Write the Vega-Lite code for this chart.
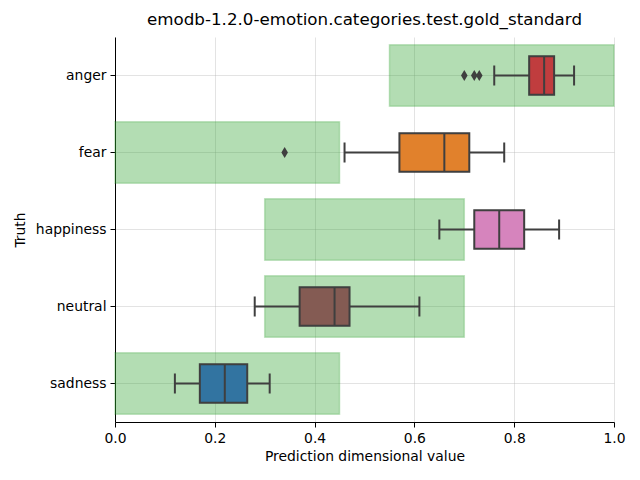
{
  "$schema": "https://vega.github.io/schema/vega-lite/v6.json",
  "autosize": "none",
  "width": 499,
  "height": 385,
  "padding": {"left": 115, "top": 37, "right": 26, "bottom": 58},
  "background": "white",
  "title": {"text": "emodb-1.2.0-emotion.categories.test.gold_standard", "font": "DejaVu Sans", "fontSize": 16.7, "fontWeight": "normal", "color": "black", "offset": 8},
  "config": {
    "view": {"stroke": null},
    "axis": {"labelFont": "DejaVu Sans", "titleFont": "DejaVu Sans", "labelFontSize": 13.9, "titleFontSize": 13.9, "titleFontWeight": "normal", "labelColor": "black", "titleColor": "black", "domainColor": "black", "tickColor": "black", "tickSize": 5, "labelPadding": 4, "gridColor": "#b0b0b0", "gridOpacity": 0.45, "gridWidth": 0.8, "zindex": 1, "domainWidth": 1, "labelFlush": false}
  },
  "datasets": {
    "boxes": [
      {"emotion": "anger", "lo": 0.76, "q1": 0.83, "med": 0.86, "q3": 0.88, "hi": 0.92, "elo": 0.55, "ehi": 1.0},
      {"emotion": "fear", "lo": 0.46, "q1": 0.57, "med": 0.66, "q3": 0.71, "hi": 0.78, "elo": 0.0, "ehi": 0.45},
      {"emotion": "happiness", "lo": 0.65, "q1": 0.72, "med": 0.77, "q3": 0.82, "hi": 0.89, "elo": 0.3, "ehi": 0.7},
      {"emotion": "neutral", "lo": 0.28, "q1": 0.37, "med": 0.44, "q3": 0.47, "hi": 0.61, "elo": 0.3, "ehi": 0.7},
      {"emotion": "sadness", "lo": 0.12, "q1": 0.17, "med": 0.22, "q3": 0.265, "hi": 0.31, "elo": 0.0, "ehi": 0.45}
    ],
    "outliers": [
      {"emotion": "anger", "value": 0.70},
      {"emotion": "anger", "value": 0.72},
      {"emotion": "anger", "value": 0.73},
      {"emotion": "fear", "value": 0.34}
    ]
  },
  "encoding": {
    "y": {"field": "emotion", "type": "nominal", "sort": ["anger", "fear", "happiness", "neutral", "sadness"], "scale": {"paddingInner": 0, "paddingOuter": 0}, "title": "Truth", "axis": {"grid": true, "domain": true, "titlePadding": 8}}
  },
  "layer": [
    {
      "data": {"name": "boxes"},
      "mark": {"type": "bar", "height": {"band": 0.8}, "fill": "#2ca02c", "fillOpacity": 0.36, "stroke": "#2ca02c", "strokeOpacity": 0.25, "strokeWidth": 1.5},
      "encoding": {
        "x": {"field": "elo", "type": "quantitative", "scale": {"domain": [0, 1], "nice": false, "zero": false}, "title": "Prediction dimensional value", "axis": {"format": ".1f", "values": [0, 0.2, 0.4, 0.6, 0.8, 1.0], "grid": true, "titlePadding": 5}},
        "x2": {"field": "ehi"}
      }
    },
    {
      "data": {"name": "boxes"},
      "mark": {"type": "rule", "color": "#3f3f3f", "strokeWidth": 2},
      "encoding": {"x": {"field": "lo", "type": "quantitative"}, "x2": {"field": "hi"}}
    },
    {
      "data": {"name": "boxes"},
      "mark": {"type": "bar", "height": {"band": 0.5}, "stroke": "#3f3f3f", "strokeWidth": 2},
      "encoding": {
        "x": {"field": "q1", "type": "quantitative"},
        "x2": {"field": "q3"},
        "color": {"field": "emotion", "type": "nominal", "scale": {"domain": ["anger", "fear", "happiness", "neutral", "sadness"], "range": ["#c03d3e", "#e1812c", "#d684bd", "#845b53", "#3274a1"]}, "legend": null}
      }
    },
    {
      "data": {"name": "boxes"},
      "mark": {"type": "tick", "color": "#3f3f3f", "size": 38, "thickness": 2, "opacity": 1},
      "encoding": {"x": {"field": "med", "type": "quantitative"}}
    },
    {
      "data": {"name": "boxes"},
      "mark": {"type": "tick", "color": "#3f3f3f", "size": 20, "thickness": 2, "opacity": 1},
      "encoding": {"x": {"field": "lo", "type": "quantitative"}}
    },
    {
      "data": {"name": "boxes"},
      "mark": {"type": "tick", "color": "#3f3f3f", "size": 20, "thickness": 2, "opacity": 1},
      "encoding": {"x": {"field": "hi", "type": "quantitative"}}
    },
    {
      "data": {"name": "outliers"},
      "mark": {"type": "point", "shape": "M0,-1L0.6,0L0,1L-0.6,0Z", "filled": true, "color": "#3f3f3f", "size": 120, "opacity": 1},
      "encoding": {"x": {"field": "value", "type": "quantitative"}}
    }
  ]
}
